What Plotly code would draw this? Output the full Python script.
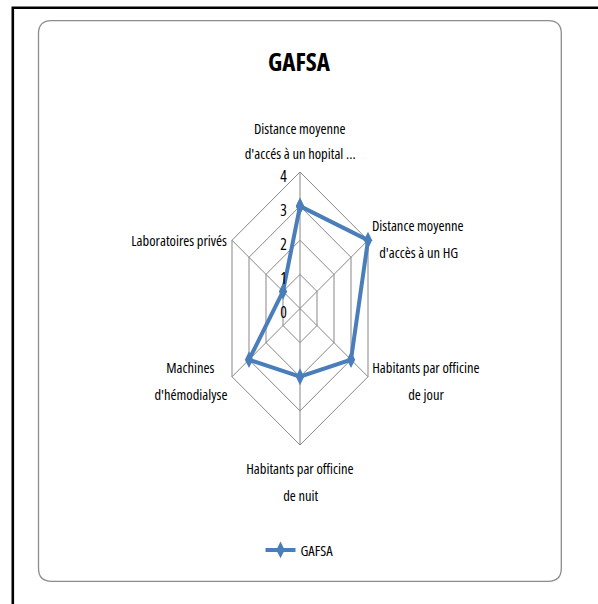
import numpy as np
import plotly.graph_objects as go

# ---------------- data ----------------
title_text = "GAFSA"
series_name = "GAFSA"
categories = [
    "Distance moyenne<br>d'accés à un hopital ...",
    "Distance moyenne<br>d'accès à un HG",
    "Habitants par officine<br>de jour",
    "Habitants par officine<br>de nuit",
    "Machines<br>d'hémodialyse",
    "Laboratoires privés",
]
values = [3, 4, 3, 2, 3, 1]
tick_values = [0, 1, 2, 3, 4]
tick_labels = ["0", "1", "2", "3", "4"]

# ---------------- style / geometry ----------------
W, H = 598, 604
CX, CY = 300.0, 308.5          # pixel centre of the radar
PX_Y = 34.125                  # pixels per unit, vertical
PX_X = 19.63                   # pixels per unit, horizontal (chart is horizontally compressed)
FONT = "Open Sans, DejaVu Sans, sans-serif"
LINE_COLOR = "#4A7EBB"
GRID_COLOR = "#878787"

xr = [(0 - CX) / PX_X, (W - CX) / PX_X]
yr = [(CY - H) / PX_Y, CY / PX_Y]

n = len(categories)
ang = np.deg2rad(np.arange(n) * 360.0 / n)
rmax = max(tick_values)


def to_xy(r, k):
    return r * np.sin(ang[k]), r * np.cos(ang[k])


fig = go.Figure()

# grid polygons
for t in tick_values[1:]:
    xs, ys = [], []
    for k in list(range(n)) + [0]:
        x, y = to_xy(t, k)
        xs.append(x)
        ys.append(y)
    fig.add_trace(go.Scatter(x=xs, y=ys, mode="lines", line=dict(color=GRID_COLOR, width=1),
                             hoverinfo="skip", showlegend=False))
# spokes
for k in range(n):
    x, y = to_xy(rmax, k)
    fig.add_trace(go.Scatter(x=[0, x], y=[0, y], mode="lines", line=dict(color=GRID_COLOR, width=1),
                             hoverinfo="skip", showlegend=False))

# series
sx, sy = [], []
for k in list(range(n)) + [0]:
    x, y = to_xy(values[k], k)
    sx.append(x)
    sy.append(y)
fig.add_trace(go.Scatter(x=sx, y=sy, mode="lines+markers", name=series_name,
                         line=dict(color=LINE_COLOR, width=4),
                         marker=dict(symbol="diamond-tall", size=12, color=LINE_COLOR)))

# category labels (per-line pixel offsets of the line centre from the outer vertex)
label_offsets = [
    [(0, -44), (0, -19)],
    [(50, -15), (50, 12)],
    [(57.5, -9), (57.5, 18)],
    [(0, 23), (0, 50)],
    [(-41.5, -9), (-41.5, 18)],
    [(-53, 0)],
]
for k, cat in enumerate(categories):
    vx, vy = to_xy(rmax, k)
    lines = cat.split("<br>")
    for line, (dx, dy) in zip(lines, label_offsets[k]):
        fig.add_annotation(x=vx, y=vy, text=line, showarrow=False, xanchor="center", yanchor="middle",
                           xshift=dx, yshift=-dy,
                           font=dict(family=FONT, size=14.5, color="#000"))

# radial tick labels
for t, lab in zip(tick_values, tick_labels):
    fig.add_annotation(x=0, y=t, text=lab, showarrow=False, xanchor="center", yanchor="middle",
                       xshift=-17, yshift=-3.5,
                       font=dict(family=FONT, size=15.5, color="#000"))


def px(x):
    return x / W


def py(y):
    return 1 - y / H


# outer black frame
fig.add_shape(type="rect", xref="paper", yref="paper", x0=px(12.8), y0=py(7.8), x1=px(640), y1=py(640),
              line=dict(color="#000", width=2.6), layer="above")
# rounded chart-area border
x0, y0, x1, y1, r = 38.5, 20.7, 561.3, 581.3, 13
path = (f"M {px(x0 + r)},{py(y0)} L {px(x1 - r)},{py(y0)} Q {px(x1)},{py(y0)} {px(x1)},{py(y0 + r)} "
        f"L {px(x1)},{py(y1 - r)} Q {px(x1)},{py(y1)} {px(x1 - r)},{py(y1)} "
        f"L {px(x0 + r)},{py(y1)} Q {px(x0)},{py(y1)} {px(x0)},{py(y1 - r)} "
        f"L {px(x0)},{py(y0 + r)} Q {px(x0)},{py(y0)} {px(x0 + r)},{py(y0)} Z")
fig.add_shape(type="path", xref="paper", yref="paper", path=path, line=dict(color="#8C8C8C", width=1.3))

fig.update_layout(
    width=W, height=H,
    margin=dict(l=0, r=0, t=0, b=0),
    paper_bgcolor="white", plot_bgcolor="white",
    title=dict(text=title_text, x=0.5, xanchor="center", y=py(62), yanchor="middle",
               font=dict(family=FONT, size=25, color="#000", weight="bold")),
    xaxis=dict(range=xr, visible=False, fixedrange=True, domain=[0, 1]),
    yaxis=dict(range=yr, visible=False, fixedrange=True, domain=[0, 1]),
    showlegend=True,
    legend=dict(orientation="h", x=px(306), xanchor="center", y=py(550), yanchor="middle",
                font=dict(family=FONT, size=14.5, color="#000"),
                bgcolor="rgba(0,0,0,0)"),
    hovermode=False,
)

post = """
var st = document.createElement('style');
st.textContent = 'text { font-stretch: 75% !important; font-variation-settings: "wdth" 75; }';
document.head.appendChild(st);
document.body.style.margin = '0';
"""

fig.write_html("out.html", config={"displayModeBar": False}, post_script=post)
